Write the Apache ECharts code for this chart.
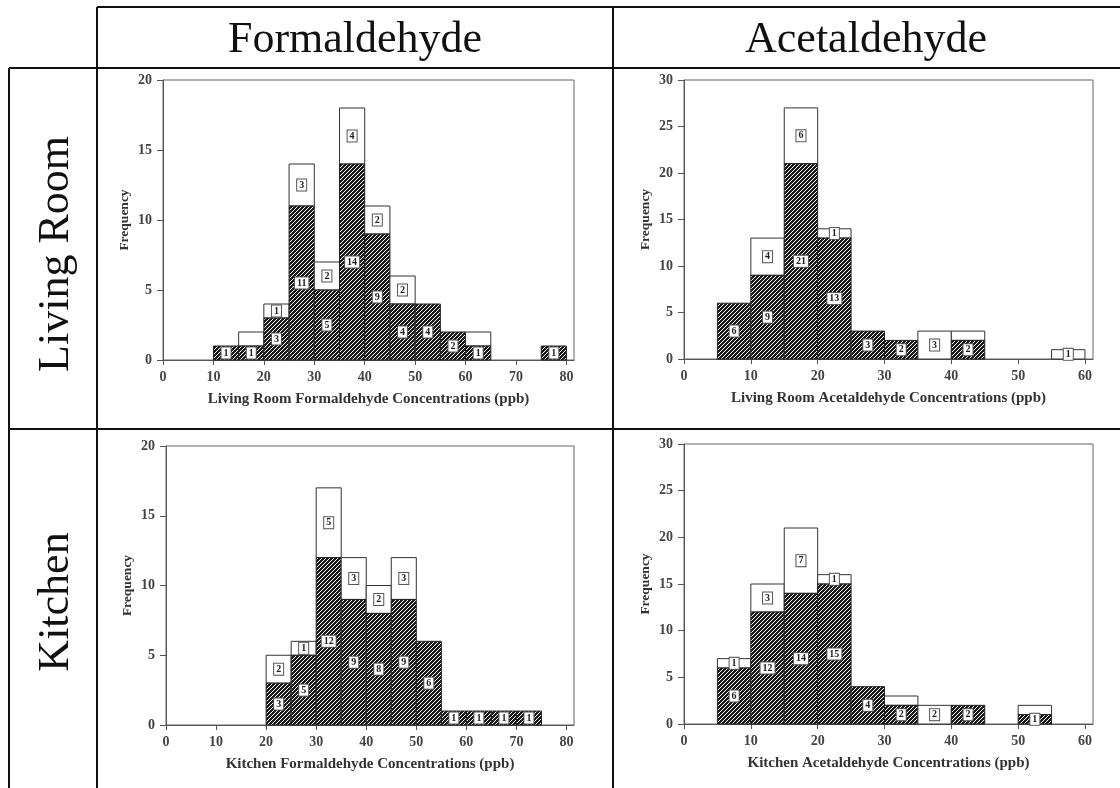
<!DOCTYPE html>
<html>
<head>
<meta charset="utf-8">
<script src="https://cdn.jsdelivr.net/npm/echarts@6/dist/echarts.min.js"></script>
<style>
  html, body { margin: 0; padding: 0; background: #fff; }
  #main { width: 1120px; height: 788px; }
</style>
</head>
<body>
<div id="main"></div>
<script>
// bin width of all histograms (ppb)
const binWidth = 5;

// Living Room Formaldehyde
const lrFormBins = [10, 15, 20, 25, 30, 35, 40, 45, 50, 55, 60, 75];
const lrFormShaded = [1, 1, 3, 11, 5, 14, 9, 4, 4, 2, 1, 1];
const lrFormOpen = [0, 1, 1, 3, 2, 4, 2, 2, 0, 0, 1, 0];
const lrFormOpenNoLabel = [15, 60];

// Living Room Acetaldehyde
const lrAcetBins = [5, 10, 15, 20, 25, 30, 35, 40, 55];
const lrAcetShaded = [6, 9, 21, 13, 3, 2, 0, 2, 0];
const lrAcetOpen = [0, 4, 6, 1, 0, 0, 3, 1, 1];
const lrAcetOpenNoLabel = [40];

// Kitchen Formaldehyde
const kFormBins = [20, 25, 30, 35, 40, 45, 50, 55, 60, 65, 70];
const kFormShaded = [3, 5, 12, 9, 8, 9, 6, 1, 1, 1, 1];
const kFormOpen = [2, 1, 5, 3, 2, 3, 0, 0, 0, 0, 0];
const kFormOpenNoLabel = [];

// Kitchen Acetaldehyde
const kAcetBins = [5, 10, 15, 20, 25, 30, 35, 40, 50];
const kAcetShaded = [6, 12, 14, 15, 4, 2, 0, 2, 1];
const kAcetOpen = [1, 3, 7, 1, 0, 1, 2, 0, 1];
const kAcetOpenNoLabel = [30, 50];

const formTicks = [0, 10, 20, 30, 40, 50, 60, 70, 80];
const acetTicks = [0, 10, 20, 30, 40, 50, 60];

const colHeaders = ['Formaldehyde', 'Acetaldehyde'];
const rowHeaders = ['Living Room', 'Kitchen'];

const serif = '"Liberation Serif", "Times New Roman", serif';

// hatch pattern for the shaded part
const hatch = document.createElement('canvas');
hatch.width = 4;
hatch.height = 4;
const hctx = hatch.getContext('2d');
hctx.fillStyle = '#1c1c1c';
hctx.fillRect(0, 0, 4, 4);
hctx.strokeStyle = '#ffffff';
hctx.lineWidth = 1;
hctx.beginPath();
hctx.moveTo(-1, 5); hctx.lineTo(5, -1);
hctx.moveTo(-1, 1); hctx.lineTo(1, -1);
hctx.moveTo(3, 5); hctx.lineTo(5, 3);
hctx.stroke();
const hatchFill = { image: hatch, repeat: 'repeat' };

const labelBox = (txt, x, y) => ({
  type: 'text',
  z2: 10,
  style: {
    text: String(txt),
    x: x,
    y: y,
    align: 'center',
    verticalAlign: 'middle',
    font: 'bold 10px ' + serif,
    fill: '#222',
    backgroundColor: '#fff',
    borderColor: '#555',
    borderWidth: 1,
    padding: [1, 2, 0, 2]
  }
});

const renderBin = (params, api) => {
  const start = api.value(0);
  const shaded = api.value(1);
  const open = api.value(2);
  const showOpen = api.value(3);
  const p0 = api.coord([start, 0]);
  const p1 = api.coord([start + binWidth, shaded]);
  const p2 = api.coord([start + binWidth, shaded + open]);
  const w = p1[0] - p0[0];
  const cx = (p0[0] + p1[0]) / 2;
  const children = [];
  if (open > 0) {
    children.push({
      type: 'rect',
      shape: { x: p0[0], y: p2[1], width: w, height: p1[1] - p2[1] },
      style: { fill: '#fff', stroke: '#333', lineWidth: 1 }
    });
    if (showOpen) {
      children.push(labelBox(open, cx, api.coord([0, shaded + open / 2])[1]));
    }
  }
  if (shaded > 0) {
    children.push({
      type: 'rect',
      shape: { x: p0[0], y: p1[1], width: w, height: p0[1] - p1[1] },
      style: { fill: hatchFill, stroke: '#222', lineWidth: 1 }
    });
    children.push(labelBox(shaded, cx, api.coord([0, shaded / 2])[1]));
  }
  return { type: 'group', children: children };
};

const axisFont = { fontFamily: serif, fontWeight: 'bold', fontSize: 14, color: '#444' };

const panels = [
  { name: 'Living Room Formaldehyde Concentrations (ppb)', bins: lrFormBins, shaded: lrFormShaded, open: lrFormOpen, noLabel: lrFormOpenNoLabel,
    ticks: formTicks, xMax: 81.5, yMax: 20, grid: { left: 163, top: 80, width: 411, height: 280 } },
  { name: 'Living Room Acetaldehyde Concentrations (ppb)', bins: lrAcetBins, shaded: lrAcetShaded, open: lrAcetOpen, noLabel: lrAcetOpenNoLabel,
    ticks: acetTicks, xMax: 61.2, yMax: 30, grid: { left: 684, top: 80, width: 409, height: 279 } },
  { name: 'Kitchen Formaldehyde Concentrations (ppb)', bins: kFormBins, shaded: kFormShaded, open: kFormOpen, noLabel: kFormOpenNoLabel,
    ticks: formTicks, xMax: 81.5, yMax: 20, grid: { left: 166, top: 446, width: 408, height: 279 } },
  { name: 'Kitchen Acetaldehyde Concentrations (ppb)', bins: kAcetBins, shaded: kAcetShaded, open: kAcetOpen, noLabel: kAcetOpenNoLabel,
    ticks: acetTicks, xMax: 61.2, yMax: 30, grid: { left: 684, top: 444, width: 409, height: 280 } }
];

const grids = [], xAxes = [], yAxes = [], series = [];
panels.forEach((p, i) => {
  grids.push(Object.assign({ show: true, borderColor: '#666', borderWidth: 1, backgroundColor: '#fff', outerBoundsMode: 'none' }, p.grid));
  xAxes.push({
    type: 'value', gridIndex: i, min: 0, max: p.xMax,
    name: p.name, nameLocation: 'middle', nameGap: 32,
    nameTextStyle: { fontFamily: serif, fontWeight: 'bold', fontSize: 15, color: '#333' },
    axisLine: { lineStyle: { color: '#555' } },
    axisTick: { length: 5, lineStyle: { color: '#555' }, customValues: p.ticks },
    axisLabel: Object.assign({ margin: 10, customValues: p.ticks }, axisFont),
    splitLine: { show: false }
  });
  yAxes.push({
    type: 'value', gridIndex: i, min: 0, max: p.yMax, interval: 5,
    name: 'Frequency', nameLocation: 'middle', nameGap: 31,
    nameTextStyle: { fontFamily: serif, fontWeight: 'bold', fontSize: 13.5, color: '#333' },
    axisLine: { show: true, lineStyle: { color: '#555' } },
    axisTick: { show: true, length: 6, lineStyle: { color: '#555' } },
    axisLabel: Object.assign({ margin: 11 }, axisFont),
    splitLine: { show: false }
  });
  series.push({
    type: 'custom', xAxisIndex: i, yAxisIndex: i,
    renderItem: renderBin,
    encode: { x: [0], y: [1, 2] },
    data: p.bins.map((b, k) => [b, p.shaded[k], p.open[k], p.noLabel.indexOf(b) >= 0 ? 0 : 1])
  });
});

// table lines and headers
const line = (x1, y1, x2, y2) => ({
  type: 'line', shape: { x1: x1, y1: y1, x2: x2, y2: y2 },
  style: { stroke: '#111', lineWidth: 2 }, z: 100
});
const headText = (txt, x, y, rot) => ({
  type: 'text', x: x, y: y, rotation: rot || 0, z: 100,
  style: { text: txt, font: '44px ' + serif, fill: '#111', align: 'center', verticalAlign: 'middle' }
});

const graphic = [
  line(97, 7, 1120, 7),
  line(9, 68, 1120, 68),
  line(9, 429, 1120, 429),
  line(9, 68, 9, 788),
  line(97, 7, 97, 788),
  line(613, 7, 613, 788),
  headText(colHeaders[0], 355, 40),
  headText(colHeaders[1], 866, 40),
  headText(rowHeaders[0], 56, 254, Math.PI / 2),
  headText(rowHeaders[1], 56, 602, Math.PI / 2)
];

const chart = echarts.init(document.getElementById('main'));
chart.setOption({
  animation: false,
  backgroundColor: '#fff',
  grid: grids,
  xAxis: xAxes,
  yAxis: yAxes,
  series: series,
  graphic: graphic
});
window.addEventListener('resize', function () {
  chart.resize();
});
</script>
</body>
</html>
